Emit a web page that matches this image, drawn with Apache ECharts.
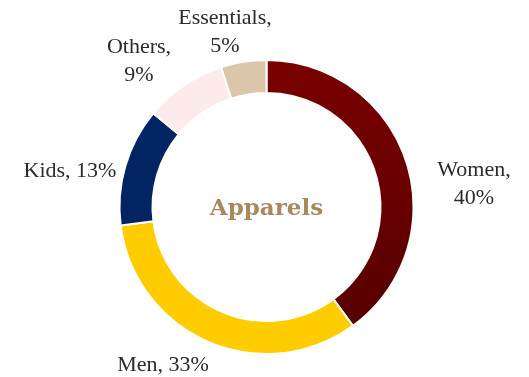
<!DOCTYPE html>
<html>
<head>
<meta charset="utf-8">
<script src="https://cdn.jsdelivr.net/npm/echarts@6/dist/echarts.min.js"></script>
<style>
  html, body { margin: 0; padding: 0; background: #ffffff; }
  #chart { width: 529px; height: 377px; }
</style>
</head>
<body>
<div id="chart"></div>
<script>
// Apparel sales split by segment (percent)
const categories = ['Women', 'Men', 'Kids', 'Others', 'Essentials'];
const shares = [40, 33, 13, 9, 5];
const centerTitle = 'Apparels';

const segmentColors = {
  Women: new echarts.graphic.LinearGradient(0, 0, 0, 1, [
    { offset: 0, color: '#7a0000' },
    { offset: 1, color: '#560000' }
  ]),
  Men: '#ffcc00',
  Kids: '#022463',
  Others: '#fdebeb',
  Essentials: '#dcc6a9'
};

// Where each category label sits (block centre, px)
const labelSpots = {
  Women: [474, 184],
  Men: [163, 365],
  Kids: [70, 171],
  Others: [139, 61],
  Essentials: [225, 32]
};
const twoLine = { Women: true, Others: true, Essentials: true };

const ringCenter = [266.5, 207];

const chart = echarts.init(document.getElementById('chart'), null, { renderer: 'canvas' });

chart.setOption({
  animation: false,
  backgroundColor: '#ffffff',
  series: [{
    type: 'pie',
    center: ringCenter,
    radius: [114, 147],
    startAngle: 90,
    clockwise: true,
    avoidLabelOverlap: false,
    itemStyle: { borderColor: '#ffffff', borderWidth: 2 },
    label: {
      show: true,
      position: 'outside',
      fontFamily: '"Liberation Serif", "Times New Roman", serif',
      fontSize: 22,
      lineHeight: 28,
      color: '#2a2a30',
      align: 'center',
      formatter: p => twoLine[p.name] ? p.name + ',\n' + p.value + '%' : p.name + ', ' + p.value + '%'
    },
    labelLine: { show: false },
    labelLayout: params => {
      const spot = labelSpots[categories[params.dataIndex]];
      return { x: spot[0], y: spot[1], align: 'center', verticalAlign: 'middle' };
    },
    emphasis: { disabled: true },
    data: categories.map((name, i) => ({
      name: name,
      value: shares[i],
      itemStyle: { color: segmentColors[name] }
    }))
  }],
  graphic: [{
    type: 'text',
    x: ringCenter[0],
    y: ringCenter[1] + 2,
    style: {
      text: centerTitle,
      align: 'center',
      verticalAlign: 'middle',
      fill: '#a8895e',
      fontFamily: '"DejaVu Serif", serif',
      fontWeight: 'bold',
      fontSize: 23
    }
  }]
});
</script>
</body>
</html>
